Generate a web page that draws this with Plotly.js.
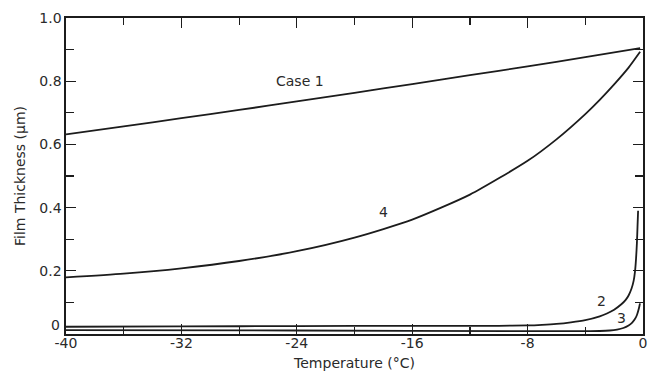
<!DOCTYPE html>
<html>
<head>
<meta charset="utf-8">
<script src="https://cdn.plot.ly/plotly-3.0.1.min.js"></script>
<style>html,body{margin:0;padding:0;background:#fff;}#chart{width:655px;height:376px;}</style>
</head>
<body>
<div id="chart"></div>
<script>
// Temperature (°C) and film thickness (µm)
var case1T = [-40, -36, -32, -28, -24, -20, -16, -12, -8, -4, -0.2];
var case1V = [0.632, 0.657, 0.683, 0.709, 0.736, 0.763, 0.791, 0.819, 0.847, 0.876, 0.905];

var case4T = [-40, -36, -32, -28, -24, -20, -16, -12, -8, -6, -4, -3, -2, -1, -0.2];
var case4V = [0.179, 0.191, 0.208, 0.231, 0.262, 0.305, 0.362, 0.441, 0.548, 0.616, 0.696, 0.741, 0.790, 0.843, 0.893];

var case2T = [-40, -32, -24, -16, -10, -8, -7, -6, -5, -4, -3, -2.5, -2, -1.5, -1.2, -1.0, -0.8, -0.65, -0.55, -0.48, -0.42, -0.38, -0.34];
var case2V = [0.023, 0.024, 0.025, 0.026, 0.026, 0.027, 0.029, 0.032, 0.037, 0.044, 0.056, 0.065, 0.077, 0.094, 0.108, 0.122, 0.143, 0.168, 0.2, 0.24, 0.29, 0.34, 0.39];

var case3T = [-40, -24, -8, -4, -3, -2.3, -1.8, -1.36, -1.0, -0.75, -0.55, -0.42, -0.32, -0.25, -0.21];
var case3V = [0.012, 0.011, 0.009, 0.009, 0.0095, 0.011, 0.014, 0.019, 0.027, 0.036, 0.048, 0.06, 0.075, 0.088, 0.097];

var xTickVals = [-40, -32, -24, -16, -8, 0];
var xTickText = ['-40', '-32', '-24', '-16', '-8', '0'];
var yTickVals = [0.2, 0.4, 0.6, 0.8, 1.0];
var yTickText = ['0.2', '0.4', '0.6', '0.8', '1.0'];
var yZeroLabel = '0';

var curveLabels = ['Case 1', '4', '2', '3'];
var labelT = [-23.8, -18.0, -2.86, -1.5];
var labelV = [0.80, 0.385, 0.105, 0.05];

var lineStyle = {color: '#1c1c1c', width: 1.8, shape: 'spline', smoothing: 0.6};
function tr(x, y) { return {x: x, y: y, mode: 'lines', line: lineStyle, hoverinfo: 'skip', showlegend: false}; }

var data = [tr(case1T, case1V), tr(case4T, case4V), tr(case2T, case2V), tr(case3T, case3V)];

var font = {family: 'DejaVu Sans, Liberation Sans, sans-serif', size: 14, color: '#2a2a2a'};

var annotations = curveLabels.map(function (t, i) {
  return {x: labelT[i], y: labelV[i], xref: 'x', yref: 'y', text: t, showarrow: false, font: font};
});
// y-axis "0" label sits a little above the corner in the original
annotations.push({x: 0, xref: 'paper', xanchor: 'right', xshift: -4, y: 0, yref: 'y', yanchor: 'middle', yshift: 9,
  text: yZeroLabel, showarrow: false, font: font});

var axisCommon = {
  showline: true, linecolor: '#1c1c1c', linewidth: 1.6, mirror: 'allticks',
  ticks: 'inside', ticklen: 10, tickwidth: 1.2, tickcolor: '#1c1c1c',
  showgrid: false, zeroline: false, tickfont: font, tickmode: 'array'
};

var layout = {
  width: 655, height: 376,
  margin: {l: 66, r: 12, t: 18, b: 42},
  paper_bgcolor: '#ffffff', plot_bgcolor: '#ffffff',
  font: font,
  xaxis: Object.assign({}, axisCommon, {
    range: [-40, 0], tickvals: xTickVals, ticktext: xTickText, ticklabelstandoff: -4,
    minor: {tickvals: [-36, -28, -20, -12, -4], ticks: 'inside', ticklen: 7, tickwidth: 1.2, tickcolor: '#1c1c1c'},
    title: {text: 'Temperature (°C)', font: {family: font.family, size: 14, color: '#2a2a2a'}, standoff: 8}
  }),
  yaxis: Object.assign({}, axisCommon, {
    range: [0, 1], tickvals: yTickVals, ticktext: yTickText,
    minor: {tickvals: [0, 0.1, 0.3, 0.5, 0.7, 0.9], ticks: 'inside', ticklen: 8, tickwidth: 1.2, tickcolor: '#1c1c1c'},
    title: {text: 'Film Thickness (μm)', font: {family: font.family, size: 14, color: '#2a2a2a'}, standoff: 10}
  }),
  annotations: annotations
};

Plotly.newPlot('chart', data, layout, {displayModeBar: false, staticPlot: true});
</script>
</body>
</html>
